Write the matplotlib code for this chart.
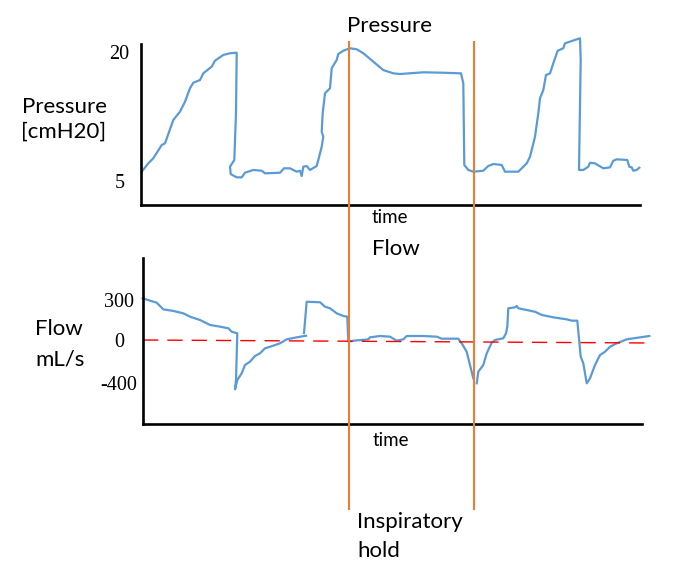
import numpy as np
import matplotlib
matplotlib.use("Agg")
import matplotlib.pyplot as plt
from matplotlib.lines import Line2D
from matplotlib.transforms import blended_transform_factory

plt.rcParams["font.family"] = ["Lato", "DejaVu Sans"]

W, H = 698, 569

# time in arbitrary units (no scale shown on the chart)
pressure_t = [0.7, 7.3, 12.3, 20.7, 24, 32.3, 39, 44, 49, 52.3, 59, 62.3, 70.7, 74, 82.3, 89,
              95.7, 95, 93.3, 89, 89.7, 95.7, 100.7, 104, 112.3, 120.7, 124, 139, 143, 149,
              155.7, 159, 160.7, 162.3, 165.7, 169, 175.7, 177.3, 180.7, 182.3, 180.7, 181.7,
              184, 189, 190.7, 195.7, 197.3, 202.3, 209, 215.7, 222.3, 232.3, 242.3, 252.3,
              259, 282.3, 299, 320, 322.3, 323.3, 327.3, 332.3, 342.3, 347.3, 352.3, 360.7,
              364, 377.3, 385.7, 389, 394, 397.3, 399, 402.3, 405, 409, 412.3, 416.7, 422.3,
              424, 439, 439.7, 438, 442.3, 447.3, 449, 454, 462.3, 469, 472.3, 475.7, 486.3,
              488.3, 490.7, 492.3, 495.7, 498.3]
pressure_cmh2o = [6.03, 7.00, 7.59, 9.13, 9.33, 12.05, 13.02, 14.18, 15.74, 16.39, 16.70, 17.48,
                  18.26, 18.95, 19.62, 19.82, 19.88, 12.86, 7.39, 6.61, 5.75, 5.37, 5.37, 5.91,
                  6.23, 6.14, 5.84, 5.91, 6.42, 6.42, 6.03, 6.14, 5.52, 6.61, 6.69, 6.23, 6.69,
                  7.39, 8.93, 10.10, 10.68, 12.83, 15.15, 15.74, 18.07, 19.04, 19.73, 20.11,
                  20.40, 20.28, 19.82, 18.84, 17.86, 17.48, 17.40, 17.60, 17.56, 17.48, 16.32,
                  6.81, 6.23, 6.03, 6.14, 6.69, 6.92, 6.81, 6.03, 6.03, 7.00, 7.77, 10.10, 12.83,
                  14.57, 15.54, 17.28, 17.48, 18.65, 20.11, 20.40, 20.98, 21.56, 19.04, 6.23,
                  6.23, 6.61, 7.07, 7.00, 6.42, 6.53, 7.30, 7.47, 7.39, 6.61, 6.53, 6.14, 6.23,
                  6.49]

flow_t = [1.7, 9, 15.7, 22.3, 32.3, 42.3, 49, 59, 69, 79, 87.3, 90.7, 96.3, 95, 94, 96.3, 100.7,
          104, 109, 114, 119, 124, 132.3, 139, 145.7, 155.7, 165, np.nan, 163, 165.7, 179, 184,
          189, 195.7, 202.3, 206.3, 207.3, 212.3, 227.3, 229, 239, 249, 255.7, 262.3, 265.7,
          282.3, 295.7, 300.7, 317.3, 320.7, 325.7, 332.3, np.nan, 335.7, 337.3, 342.3, 345.7,
          350.7, 354, 362.3, 365, 366.3, 367.3, 374, 375.7, 377.3, 394, 400.7, 412.3, 425.7,
          430.7, 436.3, 439.7, 442.3, 445.7, 449, 454, 459, 464, 469, 475.7, 485.7, 508.3]
flow_mls = [313, 295, 280, 230, 218, 200, 175, 150, 113, 100, 88, 62, 50, -375, -462, -375, -312,
            -234, -203, -150, -125, -78, -53, -31, 5, 20, 32, np.nan, 52, 287, 283, 250, 238, 200,
            180, 175, -16, -7, 5, 20, 30, 25, -7, 5, 30, 30, 25, 10, 10, -31, -110, -359, np.nan,
            -406, -297, -234, -125, -25, 0, 13, 50, 100, 238, 245, 255, 238, 212, 188, 170, 155,
            145, 145, -156, -218, -406, -359, -234, -141, -110, -63, -31, 5, 30]

zero_line_t = [2, 508]
zero_line_v = [0, -28]

hold_t = [207.5, 333]

pressure_ticks = [20, 5]
flow_ticks = [300, 0, -400]

BLUE = "#5B9BD5"
ORANGE = "#ED7D31"


def rect(x0, y0, x1, y1):
    return [x0 / W, 1 - y1 / H, (x1 - x0) / W, (y1 - y0) / H]


def px(x, y):
    return x / W, 1 - y / H


def flow_fwd(v):
    v = np.asarray(v, dtype=float)
    return np.where(v >= 0, v / 7.5, v / 9.37)


def flow_inv(u):
    u = np.asarray(u, dtype=float)
    return np.where(u >= 0, u * 7.5, u * 9.37)


fig = plt.figure(figsize=(W / 100, H / 100), dpi=100)

# pressure panel
ax_p = fig.add_axes(rect(141, 37, 640, 205))
ax_p.plot(pressure_t, pressure_cmh2o, color=BLUE, lw=1.6, clip_on=False)
ax_p.set_xlim(0, 499)
ax_p.set_ylim(2.15, 21.71)
ax_p.spines["left"].set_bounds(2.15, 20.9)

# flow panel
ax_f = fig.add_axes(rect(143, 258, 650, 424))
ax_f.set_yscale("function", functions=(flow_fwd, flow_inv))
ax_f.plot(flow_t, flow_mls, color=BLUE, lw=1.6, clip_on=False)
ax_f.plot(zero_line_t, zero_line_v, color="red", lw=1.0, dashes=(11, 6.5), clip_on=False)
ax_f.set_xlim(2, 509)
ax_f.set_ylim(-787, 615)
ax_f.spines["bottom"].set_bounds(2, 501)

for ax, ticks, pad in [(ax_p, pressure_ticks, 15.5), (ax_f, flow_ticks, 17.3)]:
    for s in ["top", "right"]:
        ax.spines[s].set_visible(False)
    for s in ["left", "bottom"]:
        ax.spines[s].set_linewidth(1.9)
    ax.set_xticks([])
    ax.set_yticks(ticks)
    ax.set_yticklabels([str(v) for v in ticks], family="Liberation Serif", fontsize=14.5)
    ax.tick_params(axis="y", length=0, pad=pad)
    for lab in ax.get_yticklabels():
        lab.set_horizontalalignment("center")
    ax.patch.set_alpha(0)

# inspiratory hold markers across both panels
tr = blended_transform_factory(ax_p.transData, fig.transFigure)
for t in hold_t:
    fig.add_artist(Line2D([t, t], [1 - 42 / H, 1 - 509 / H], transform=tr,
                          color=ORANGE, lw=1.5))

txt = dict(fontsize=16, ha="left", va="baseline")
fig.text(*px(346.7, 31.7), "Pressure", **txt)
fig.text(*px(21.7, 113.3), "Pressure", **txt)
fig.text(*px(21.0, 137.3), "[cmH20]", **txt)
fig.text(*px(371.7, 222.7), "time", fontsize=13.5, ha="left", va="baseline")
fig.text(*px(371.7, 255), "Flow", **txt)
fig.text(*px(35, 335), "Flow", **txt)
fig.text(*px(35, 365), "mL/s", **txt)
fig.text(*px(373, 446), "time", fontsize=13.5, ha="left", va="baseline")
fig.text(*px(356.7, 528.3), "Inspiratory", **txt)
fig.text(*px(357, 556.7), "hold", **txt)

fig.savefig("out.png", dpi=100)
